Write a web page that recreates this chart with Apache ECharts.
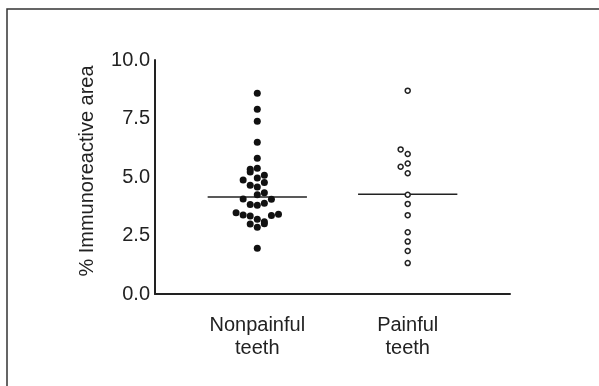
<!DOCTYPE html>
<html>
<head>
<meta charset="utf-8">
<script src="https://cdn.jsdelivr.net/npm/echarts@6/dist/echarts.min.js"></script>
<style>
html, body { margin: 0; padding: 0; background: #fff; }
#chart { width: 599px; height: 386px; }
</style>
</head>
<body>
<div id="chart"></div>
<script>
// categories (x position 1 and 2 on the value axis)
var categories = ['Nonpainful\nteeth', 'Painful\nteeth']

// nonpainful teeth: values and beeswarm column (-3..3)
var nonpainfulValues = [8.58, 7.89, 7.38, 6.48, 5.80, 5.33, 5.21, 5.37, 4.87, 4.96, 5.07, 4.77, 4.65, 4.57, 4.33, 4.24,
    4.06, 4.05, 3.83, 3.79, 3.88, 3.47, 3.38, 3.33, 3.36, 3.41, 3.19, 3.09, 3.00, 2.99, 2.85, 1.95]
var nonpainfulColumn = [0, 0, 0, 0, 0, -1, -1, 0, -2, 0, 1, 1, -1, 0, 1, 0,
    -2, 2, -1, 0, 1, -3, -2, -1, 2, 3, 0, 1, 1, -1, 0, 0]
var nonpainfulMedian = 4.15

// painful teeth
var painfulValues = [8.69, 6.18, 5.98, 5.58, 5.44, 5.16, 4.24, 3.85, 3.37, 2.64, 2.24, 1.84, 1.32]
var painfulColumn = [0, -1, 0, 0, -1, 0, 0, 0, 0, 0, 0, 0, 0]
var painfulMedian = 4.26

var yTicks = [0, 2.5, 5, 7.5, 10]

var colStep = 0.047 // one beeswarm column in axis units
var halfLine = 0.33
var fontColor = '#222'

function toPoints(cat, vals, cols) {
    return vals.map(function(v, i) { return [cat + cols[i] * colStep, v] })
}

var option = {
    backgroundColor: '#fff',
    animation: false,
    textStyle: { fontFamily: 'Liberation Sans, Arial, sans-serif' },
    graphic: [{
        type: 'rect',
        shape: { x: 7, y: 9, width: 700, height: 500 },
        style: { fill: 'none', stroke: '#333', lineWidth: 1.5 }
    }],
    grid: { left: 155, top: 60, right: 89, bottom: 92, containLabel: false },
    xAxis: {
        type: 'value',
        min: 0.32,
        max: 2.68,
        splitLine: { show: false },
        axisLine: { lineStyle: { color: fontColor, width: 2 } },
        axisTick: { show: false },
        axisLabel: {
            customValues: [1, 2],
            formatter: function(v) { return categories[Math.round(v) - 1] },
            color: fontColor,
            fontSize: 20,
            lineHeight: 23,
            margin: 20
        }
    },
    yAxis: {
        type: 'value',
        min: yTicks[0],
        max: yTicks[yTicks.length - 1],
        interval: 2.5,
        name: '% Immunoreactive area',
        nameLocation: 'middle',
        nameGap: 58,
        nameTextStyle: { color: fontColor, fontSize: 20, padding: [0, 0, 0, 12] },
        splitLine: { show: false },
        axisLine: { show: true, lineStyle: { color: fontColor, width: 2 } },
        axisTick: { show: false },
        axisLabel: {
            color: fontColor,
            fontSize: 20,
            margin: 5,
            formatter: function(v) { return v.toFixed(1) }
        }
    },
    series: [{
        type: 'line',
        data: [[1 - halfLine, nonpainfulMedian], [1 + halfLine, nonpainfulMedian]],
        symbol: 'none',
        lineStyle: { color: fontColor, width: 1.5 },
        z: 1
    }, {
        type: 'line',
        data: [[2 - halfLine, painfulMedian], [2 + halfLine, painfulMedian]],
        symbol: 'none',
        lineStyle: { color: fontColor, width: 1.5 },
        z: 1
    }, {
        type: 'scatter',
        data: toPoints(1, nonpainfulValues, nonpainfulColumn),
        symbolSize: 7,
        itemStyle: { color: '#111', opacity: 1 },
        z: 3
    }, {
        type: 'scatter',
        data: toPoints(2, painfulValues, painfulColumn),
        symbolSize: 5,
        itemStyle: { color: '#fff', borderColor: fontColor, borderWidth: 1.5, opacity: 1 },
        z: 3
    }]
}

var myChart = echarts.init(document.getElementById('chart'))
myChart.setOption(option)
</script>
</body>
</html>
